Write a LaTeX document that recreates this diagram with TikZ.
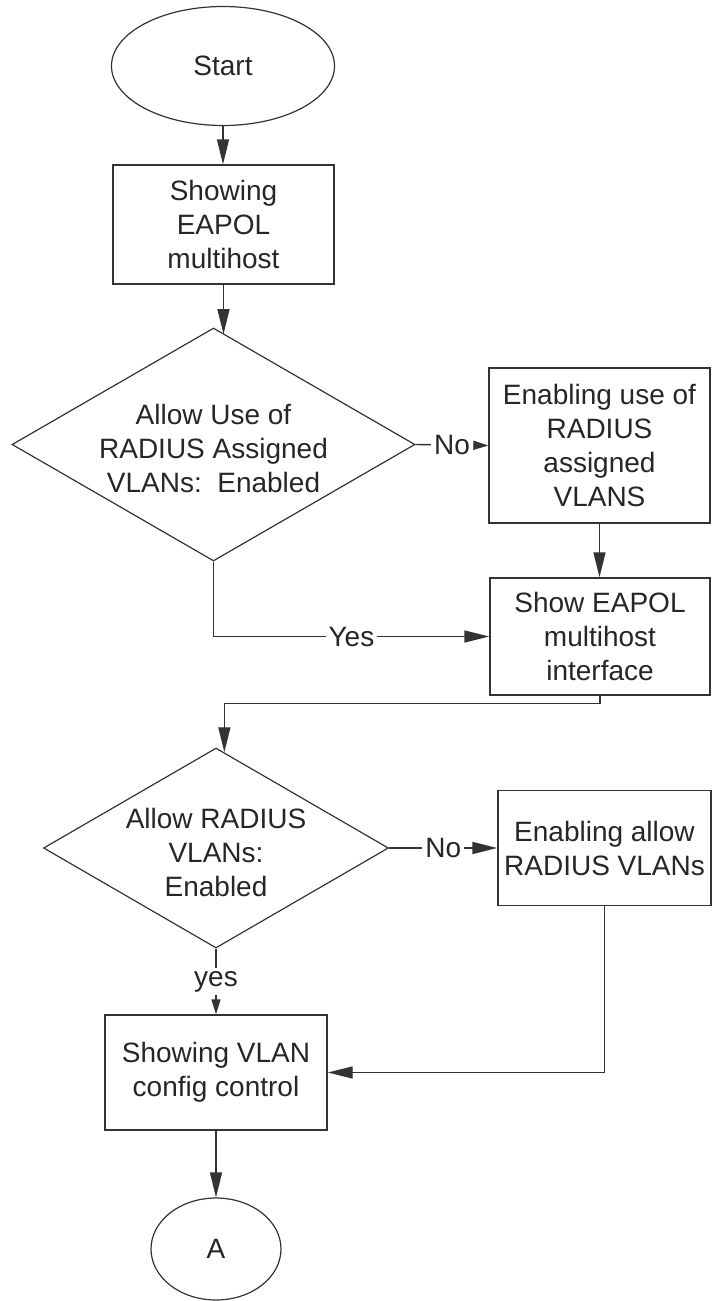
\documentclass[tikz,border=0pt]{standalone}
\usepackage{fontspec}
\setmainfont{Liberation Sans}
\usetikzlibrary{shapes.geometric, arrows.meta}
\begin{document}
\begin{tikzpicture}[x=1pt, y=-1pt,
  every node/.style={font=\fontsize{28}{34}\selectfont, text=black!85},
  line/.style={draw=black!80, line width=1.4pt},
  arr/.style={line, -{Triangle[length=25pt, width=12pt]}},
  arrs/.style={line, -{Triangle[length=15pt, width=9pt]}},
  procbox/.style={draw=black!80, line width=1.4pt, rectangle, align=center, inner sep=0pt},
  term/.style={draw=black!80, line width=1.2pt, ellipse, inner sep=0pt},
  decision/.style={draw=black!80, line width=1.2pt, diamond, inner sep=0pt},
  lbl/.style={fill=white, inner sep=3pt}
]
\useasboundingbox (0,0) rectangle (712,1301);

\node[term, minimum width=223pt, minimum height=119pt] (start) at (223,66) {Start};
\node[procbox, minimum width=221pt, minimum height=119pt] (b1) at (223.5,224.5) {Showing\\EAPOL\\multihost};
\node[decision, minimum width=403pt, minimum height=233pt,
      label={[name=d1t, align=center, yshift=-4pt]center:Allow Use of\\RADIUS Assigned\\VLANs:~~Enabled}] (d1) at (213.5,444.5) {};
\node[procbox, minimum width=221pt, minimum height=155pt] (b2) at (599.5,445.5) {Enabling use of\\RADIUS\\assigned\\VLANS};
\node[procbox, minimum width=220pt, minimum height=117pt] (b3) at (600,636.5) {Show EAPOL\\multihost\\interface};
\node[decision, minimum width=345pt, minimum height=200pt,
      label={[name=d2t, align=center, yshift=-4pt]center:Allow RADIUS\\VLANs:\\Enabled}] (d2) at (216,848) {};
\node[procbox, minimum width=213pt, minimum height=115pt] (b4) at (604.5,848) {Enabling allow\\RADIUS VLANs};
\node[procbox, minimum width=222pt, minimum height=115pt] (b5) at (216,1072.5) {Showing VLAN\\config control};
\node[term, minimum width=130pt, minimum height=102pt] (a) at (216,1249) {A};

\draw[arr] (start.south) -- (start.south |- b1.north);
\draw[arr] (b1.south) -- (b1.south |- d1.84.84);
\draw[arrs] (d1.east) -- node[lbl]{No} (b2.west);
\draw[arr] (b2.south) -- (b2.south |- b3.north);
\draw[arr] (d1.south) |- node[lbl, pos=0.75]{Yes} (b3.west);
\draw[arr] (b3.south) -- ++(0,8) -| (d2.85.83);
\draw[arr] (d2.east) -- node[lbl]{No} (b4.west);
\draw[arrs] (d2.south) -- node[lbl]{yes} (b5.north);
\draw[arr] (b4.south) |- (b5.east);
\draw[arr] (b5.south) -- (a.north);
\end{tikzpicture}
\end{document}
